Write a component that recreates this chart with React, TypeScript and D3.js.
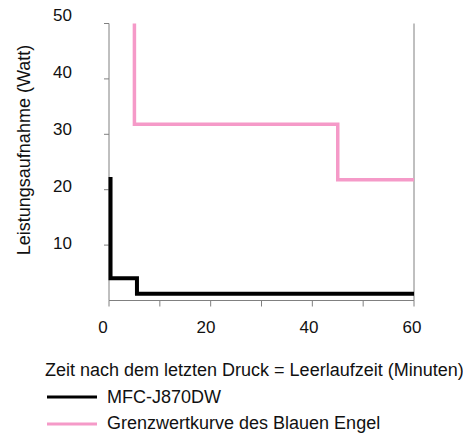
import React from "react";
import * as d3 from "d3";

const mfcX = [0.3, 0.3, 5.5, 5.5, 60];
const mfcY = [22.3, 4, 4, 1.2, 1.2];
const engelX = [5, 5, 45, 45, 60];
const engelY = [50, 31.8, 31.8, 21.8, 21.8];
const xTicks = [0, 10, 20, 30, 40, 50, 60];
const xLabels = [0, 20, 40, 60];
const yTicks = [10, 20, 30, 40, 50];
const yLabels = [10, 20, 30, 40, 50];
const seriesNames = ["MFC-J870DW", "Grenzwertkurve des Blauen Engel"];
const xTitle = "Zeit nach dem letzten Druck = Leerlaufzeit (Minuten)";
const yTitle = "Leistungsaufnahme (Watt)";

export default function App() {
  const W = 463, H = 434;
  const x = d3.scaleLinear().domain([0, 60]).range([109, 414]);
  const y = d3.scaleLinear().domain([0, 50]).range([300.5, 23.5]);
  const xl = d3.scaleLinear().domain([0, 60]).range([103, 412]);
  const yl = d3.scaleLinear().domain([0, 50]).range([300, 15]);
  const line = d3.line<[number, number]>().x(d => x(d[0])).y(d => y(d[1]));
  const mfc = mfcX.map((v, i) => [v, mfcY[i]] as [number, number]);
  const engel = engelX.map((v, i) => [v, engelY[i]] as [number, number]);
  const font = "'Liberation Sans', Arial, sans-serif";
  const axisColor = "#808080";
  return (
    <svg width={W} height={H} style={{ position: "absolute", left: 0, top: 0, background: "#fff" }} fontFamily={font}>
      {/* axes */}
      <line x1={x(0)} x2={x(0)} y1={y(50)} y2={y(0)} stroke={axisColor} strokeWidth={1} />
      <line x1={x(60)} x2={x(60)} y1={y(50)} y2={y(0)} stroke={axisColor} strokeWidth={1} />
      <line x1={x(0)} x2={x(60)} y1={y(0)} y2={y(0)} stroke={axisColor} strokeWidth={1} />
      {xTicks.map(t => (
        <line key={"xt" + t} x1={x(t)} x2={x(t)} y1={y(0)} y2={y(0) + 6} stroke={axisColor} strokeWidth={1} />
      ))}
      {yTicks.map(t => (
        <line key={"yt" + t} x1={x(0) - 5} x2={x(0)} y1={y(t)} y2={y(t)} stroke={axisColor} strokeWidth={1} />
      ))}
      {xLabels.map(t => (
        <text key={"xl" + t} x={xl(t)} y={327} textAnchor="middle" dominantBaseline="central" fontSize={17} fill="#111">{t}</text>
      ))}
      {yLabels.map(t => (
        <text key={"yl" + t} x={72} y={yl(t)} textAnchor="end" dominantBaseline="central" fontSize={17} fill="#111">{t}</text>
      ))}
      {/* series */}
      <path d={line(engel) || ""} fill="none" stroke="#f59ac8" strokeWidth={3.5} strokeLinejoin="miter" />
      <path d={line(mfc) || ""} fill="none" stroke="#000" strokeWidth={4} strokeLinejoin="miter" />
      {/* titles */}
      <text transform={`translate(24,150) rotate(-90)`} textAnchor="middle" dominantBaseline="central" fontSize={18} fill="#111">{yTitle}</text>
      <text x={45} y={370} dominantBaseline="central" fontSize={18} fill="#111">{xTitle}</text>
      {/* legend */}
      <line x1={47} x2={97} y1={397} y2={397} stroke="#000" strokeWidth={3} />
      <text x={107} y={397} dominantBaseline="central" fontSize={18} fill="#111">{seriesNames[0]}</text>
      <line x1={47} x2={97} y1={424} y2={424} stroke="#f59ac8" strokeWidth={3} />
      <text x={107} y={423} dominantBaseline="central" fontSize={18} fill="#111">{seriesNames[1]}</text>
    </svg>
  );
}
